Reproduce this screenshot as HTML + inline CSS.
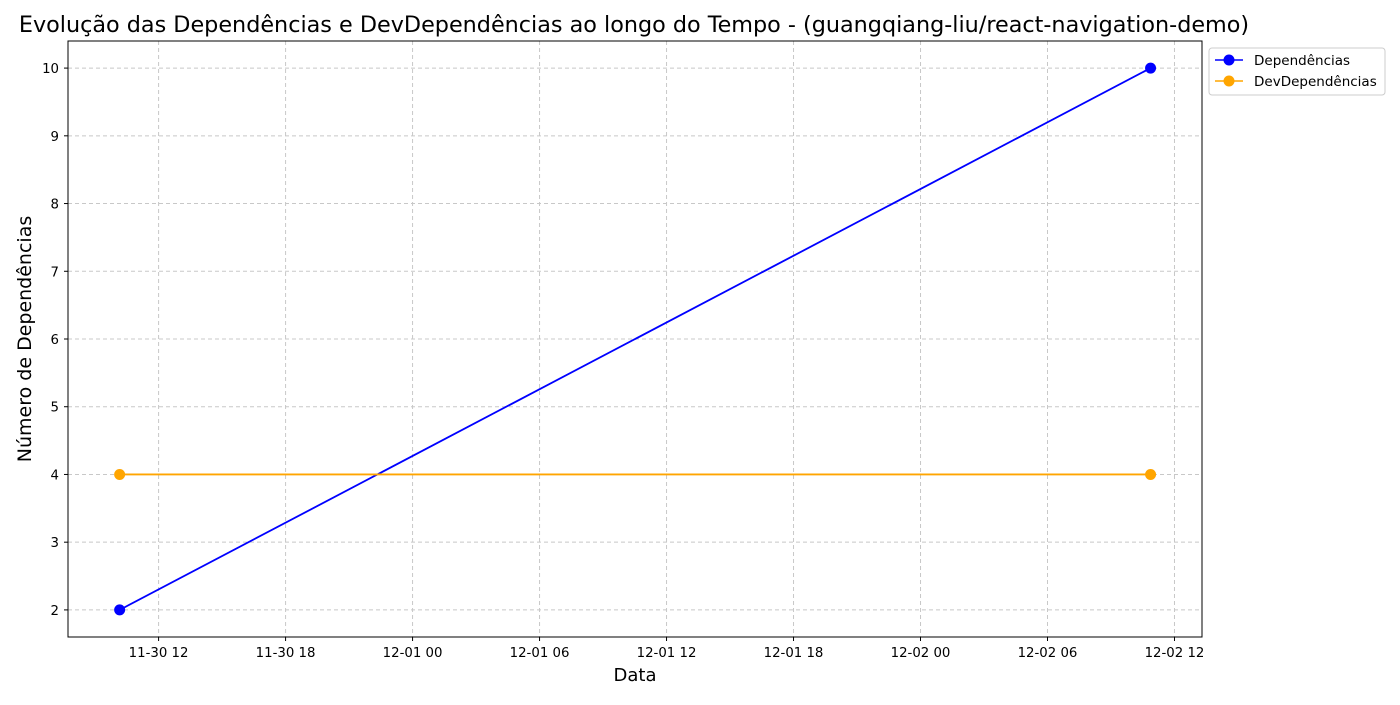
<!DOCTYPE html>
<html><head><meta charset="utf-8"><style>
body{margin:0;background:#fff;font-family:"Liberation Sans","DejaVu Sans",sans-serif;}
svg text{font-family:"DejaVu Sans","Liberation Sans",sans-serif;}
</style></head><body>
<svg id="chart" width="1400" height="700" xmlns="http://www.w3.org/2000/svg">
<text x="634" y="32" text-anchor="middle" font-size="22.3">Evolução das Dependências e DevDependências ao longo do Tempo - (guangqiang-liu/react-navigation-demo)</text>
<g id="grid"></g><g id="axes"></g><g id="series"></g>
<text x="635" y="681" text-anchor="middle" font-size="18">Data</text>
<text transform="translate(31,339) rotate(-90)" text-anchor="middle" font-size="19">Número de Dependências</text>
<g>
<rect x="1209" y="48" width="176" height="47" rx="3" fill="#fff" stroke="#ccc"/>
<line x1="1215" y1="60" x2="1243" y2="60" stroke="blue" stroke-width="1.5"/><circle cx="1229" cy="60" r="5.5" fill="blue"/>
<text x="1254" y="65" font-size="13.5">Dependências</text>
<line x1="1215" y1="81" x2="1243" y2="81" stroke="orange" stroke-width="1.5"/><circle cx="1229" cy="81" r="5.5" fill="orange"/>
<text x="1254" y="86" font-size="13.5">DevDependências</text>
</g>
</svg>
<script>
// hours since 11-30 00:00
const dates = [10.16, 58.87];
const deps = [2, 10];
const devDeps = [4, 4];
const xTickHours = [12, 18, 24, 30, 36, 42, 48, 54, 60];
const xTickLabels = ["11-30 12","11-30 18","12-01 00","12-01 06","12-01 12","12-01 18","12-02 00","12-02 06","12-02 12"];
const yTicks = [2,3,4,5,6,7,8,9,10];

const L=68,R=1202,T=41,B=637;
const xmin=7.72,xmax=61.3,ymin=1.6,ymax=10.4;
const sx=v=>L+(v-xmin)/(xmax-xmin)*(R-L);
const sy=v=>B-(v-ymin)/(ymax-ymin)*(B-T);
const NS="http://www.w3.org/2000/svg";
function mk(tag,attrs,parent,text){const e=document.createElementNS(NS,tag);for(const k in attrs)e.setAttribute(k,attrs[k]);if(text!==undefined)e.textContent=text;parent.appendChild(e);return e;}
const grid=document.getElementById('grid'),axes=document.getElementById('axes'),series=document.getElementById('series');
xTickHours.forEach((h,i)=>{const x=sx(h);
 const g=mk('line',{x1:x,x2:x,y1:T,y2:B,stroke:'#c8c8c8','stroke-dasharray':'4,3'},grid);
 
 
 mk('line',{x1:x,x2:x,y1:B,y2:B+4,stroke:'#000'},axes);
 const t=mk('text',{x:x,y:B+20,'text-anchor':'middle','font-size':13.3},axes,xTickLabels[i]);
 
 
});
yTicks.forEach(v=>{const y=sy(v);
 const g=mk('line',{x1:L,x2:R,y1:y,y2:y,stroke:'#c8c8c8','stroke-dasharray':'4,3'},grid);
 
 
 mk('line',{x1:L-4,x2:L,y1:y,y2:y,stroke:'#000'},axes);
 const t=mk('text',{x:L-9,y:y+5,'text-anchor':'end','font-size':13.3},axes,String(v));
 
 
});
const fr=mk('rect',{x:L,y:T,width:R-L,height:B-T,fill:'none',stroke:'#000'},axes);


function draw(vals,color,name){
 const pts=dates.map((d,i)=>sx(d)+','+sy(vals[i])).join(' ');
 const pl=mk('polyline',{points:pts,fill:'none',stroke:color,'stroke-width':1.8},series);
 
 
 dates.forEach((d,i)=>{const c=mk('circle',{cx:sx(d),cy:sy(vals[i]),r:5.5,fill:color},series);
  
  });
}
draw(deps,'blue','dependencias');
draw(devDeps,'orange','devdependencias');
</script>
</body></html>
